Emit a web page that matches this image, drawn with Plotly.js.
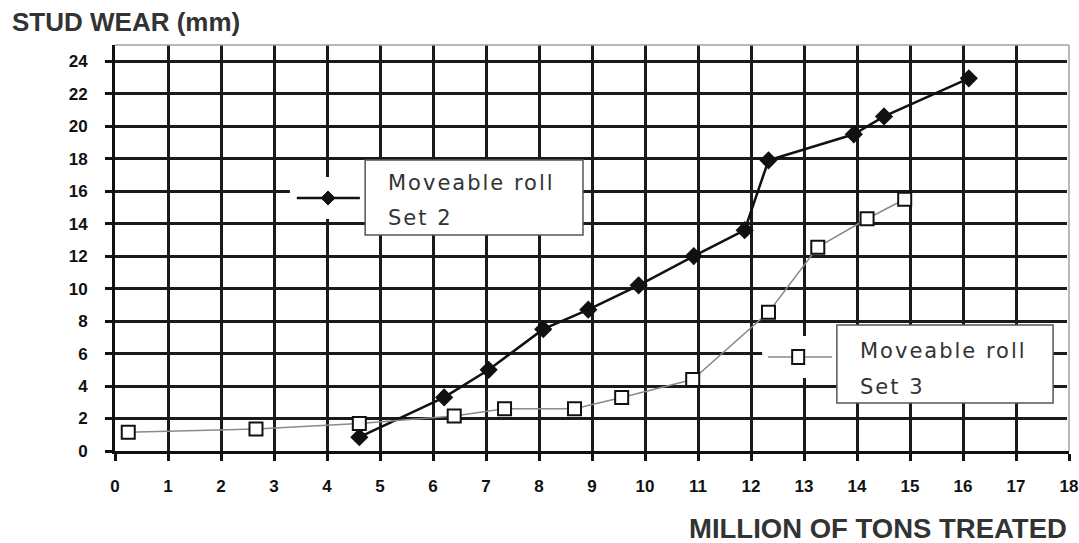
<!DOCTYPE html>
<html>
<head>
<meta charset="utf-8">
<script src="https://cdn.plot.ly/plotly-3.0.1.min.js"></script>
<style>html,body{margin:0;padding:0;background:#fff;}#chart{width:1079px;height:543px;}</style>
</head>
<body>
<div id="chart"></div>
<script>
// Data
const set2Tons = [4.61, 6.21, 7.05, 8.08, 8.93, 9.88, 10.92, 11.88, 12.33, 13.94, 14.51, 16.11];
const set2Wear = [0.85, 3.3, 5.0, 7.5, 8.7, 10.2, 12.0, 13.6, 17.9, 19.5, 20.6, 22.95];
const set3Tons = [0.25, 2.66, 4.61, 6.40, 7.35, 8.67, 9.56, 10.9, 12.33, 13.26, 14.19, 14.9];
const set3Wear = [1.15, 1.35, 1.7, 2.15, 2.6, 2.6, 3.3, 4.4, 8.55, 12.55, 14.3, 15.5];
const xTicks = [0,1,2,3,4,5,6,7,8,9,10,11,12,13,14,15,16,17,18];
const yTicks = [0,2,4,6,8,10,12,14,16,18,20,22,24];
const seriesNames = ["Moveable roll<br>Set 2", "Moveable roll<br>Set 3"];

const traces = [
  {x: set2Tons, y: set2Wear, type: 'scatter', mode: 'lines+markers', name: seriesNames[0],
   line: {color: '#111', width: 2.5},
   marker: {symbol: 'diamond', size: 14, color: '#111'}, cliponaxis: false},
  {x: set3Tons, y: set3Wear, type: 'scatter', mode: 'lines+markers', name: seriesNames[1],
   line: {color: '#8a8a8a', width: 1.5},
   marker: {symbol: 'square', size: 13, color: '#fff', line: {color: '#111', width: 2}}, cliponaxis: false}
];

const tickFont = {family: 'Liberation Sans, Arial, sans-serif', size: 17, color: '#111', weight: 'bold'};
const legFont = {family: 'DejaVu Sans, Verdana, sans-serif', size: 21, color: '#333'};

const shapes = [
  // frame top / right (thin gray)
  {type: 'line', xref: 'paper', yref: 'paper', x0: 1, x1: 1, y0: 0, y1: 1, line: {color: '#fff', width: 4}, layer: 'above'},
  {type: 'line', xref: 'paper', yref: 'paper', x0: 0, x1: 1, y0: 1, y1: 1, line: {color: '#a0a0a0', width: 1.5}, layer: 'above'},
  {type: 'line', xref: 'paper', yref: 'paper', x0: 1, x1: 1, y0: 0, y1: 1, line: {color: '#a0a0a0', width: 1.5}, layer: 'above'},
  // legend 1
  {type: 'rect', xref: 'x', yref: 'y', x0: 3.30, x1: 4.72, y0: 14.29, y1: 16.87, fillcolor: '#fff', line: {width: 0}, layer: 'above'},
  {type: 'rect', xref: 'x', yref: 'y', x0: 4.72, x1: 8.83, y0: 13.30, y1: 17.92, fillcolor: '#fff', line: {color: '#555', width: 1.5}, layer: 'above'},
  {type: 'line', xref: 'x', yref: 'y', x0: 3.43, x1: 4.62, y0: 15.58, y1: 15.58, line: {color: '#111', width: 2.5}, layer: 'above'},
  {type: 'path', xref: 'x', yref: 'y', xsizemode: 'pixel', ysizemode: 'pixel', xanchor: 4.02, yanchor: 15.58,
   path: 'M -7 0 L 0 7 L 7 0 L 0 -7 Z', fillcolor: '#111', line: {color: '#111', width: 1}, layer: 'above'},
  // legend 2
  {type: 'rect', xref: 'x', yref: 'y', x0: 12.21, x1: 13.62, y0: 4.5, y1: 7.08, fillcolor: '#fff', line: {width: 0}, layer: 'above'},
  {type: 'rect', xref: 'x', yref: 'y', x0: 13.62, x1: 17.70, y0: 2.96, y1: 7.76, fillcolor: '#fff', line: {color: '#555', width: 1.5}, layer: 'above'},
  {type: 'line', xref: 'x', yref: 'y', x0: 12.32, x1: 13.53, y0: 5.79, y1: 5.79, line: {color: '#8a8a8a', width: 1.5}, layer: 'above'},
  {type: 'rect', xref: 'x', yref: 'y', xsizemode: 'pixel', ysizemode: 'pixel', xanchor: 12.89, yanchor: 5.79,
   x0: -6, x1: 6, y0: -7, y1: 7, fillcolor: '#fff', line: {color: '#111', width: 2}, layer: 'above'}
];

const sp = s => '<span style="letter-spacing:2px">' + s + '</span>';
const annotations = [
  {xref: 'paper', yref: 'paper', x: -105/954, y: 1 + 23/406, xanchor: 'left', yanchor: 'middle', showarrow: false,
   text: '<b>STUD WEAR (mm)</b>', font: {family: 'Liberation Sans, Arial, sans-serif', size: 26, color: '#333'}},
  {xref: 'paper', yref: 'paper', x: 1, y: -77/406, xanchor: 'right', yanchor: 'middle', showarrow: false,
   text: '<b>MILLION OF TONS TREATED</b>', font: {family: 'Liberation Sans, Arial, sans-serif', size: 27.5, color: '#333'}},
  {xref: 'x', yref: 'y', x: 5.11, y: 16.5, xanchor: 'left', yanchor: 'middle', showarrow: false,
   text: sp(seriesNames[0].split('<br>')[0]), font: legFont},
  {xref: 'x', yref: 'y', x: 5.11, y: 14.35, xanchor: 'left', yanchor: 'middle', showarrow: false,
   text: sp(seriesNames[0].split('<br>')[1]), font: legFont},
  {xref: 'x', yref: 'y', x: 14.02, y: 6.16, xanchor: 'left', yanchor: 'middle', showarrow: false,
   text: sp(seriesNames[1].split('<br>')[0]), font: legFont},
  {xref: 'x', yref: 'y', x: 14.02, y: 3.94, xanchor: 'left', yanchor: 'middle', showarrow: false,
   text: sp(seriesNames[1].split('<br>')[1]), font: legFont}
];

const layout = {
  width: 1079, height: 543,
  margin: {l: 115, r: 10, t: 45, b: 92},
  paper_bgcolor: '#fff', plot_bgcolor: '#fff',
  showlegend: false,
  xaxis: {range: [0, 18], tickvals: xTicks, ticktext: xTicks.map(String), showgrid: true, gridcolor: '#1a1a1a', gridwidth: 3,
          zeroline: false, showline: true, linecolor: '#111', linewidth: 3, ticks: 'outside', ticklen: 7, tickwidth: 3,
          tickcolor: '#111', tickfont: tickFont, ticklabelstandoff: 11, fixedrange: true},
  yaxis: {range: [0, 25], tickvals: yTicks, ticktext: yTicks.map(String), showgrid: true, gridcolor: '#1a1a1a', gridwidth: 3,
          zeroline: false, showline: true, linecolor: '#111', linewidth: 3, ticks: 'outside', ticklen: 7, tickwidth: 3,
          tickcolor: '#111', tickfont: tickFont, ticklabelstandoff: 14, fixedrange: true},
  shapes: shapes,
  annotations: annotations
};

Plotly.newPlot('chart', traces, layout, {displayModeBar: false, staticPlot: true});
</script>
</body>
</html>
